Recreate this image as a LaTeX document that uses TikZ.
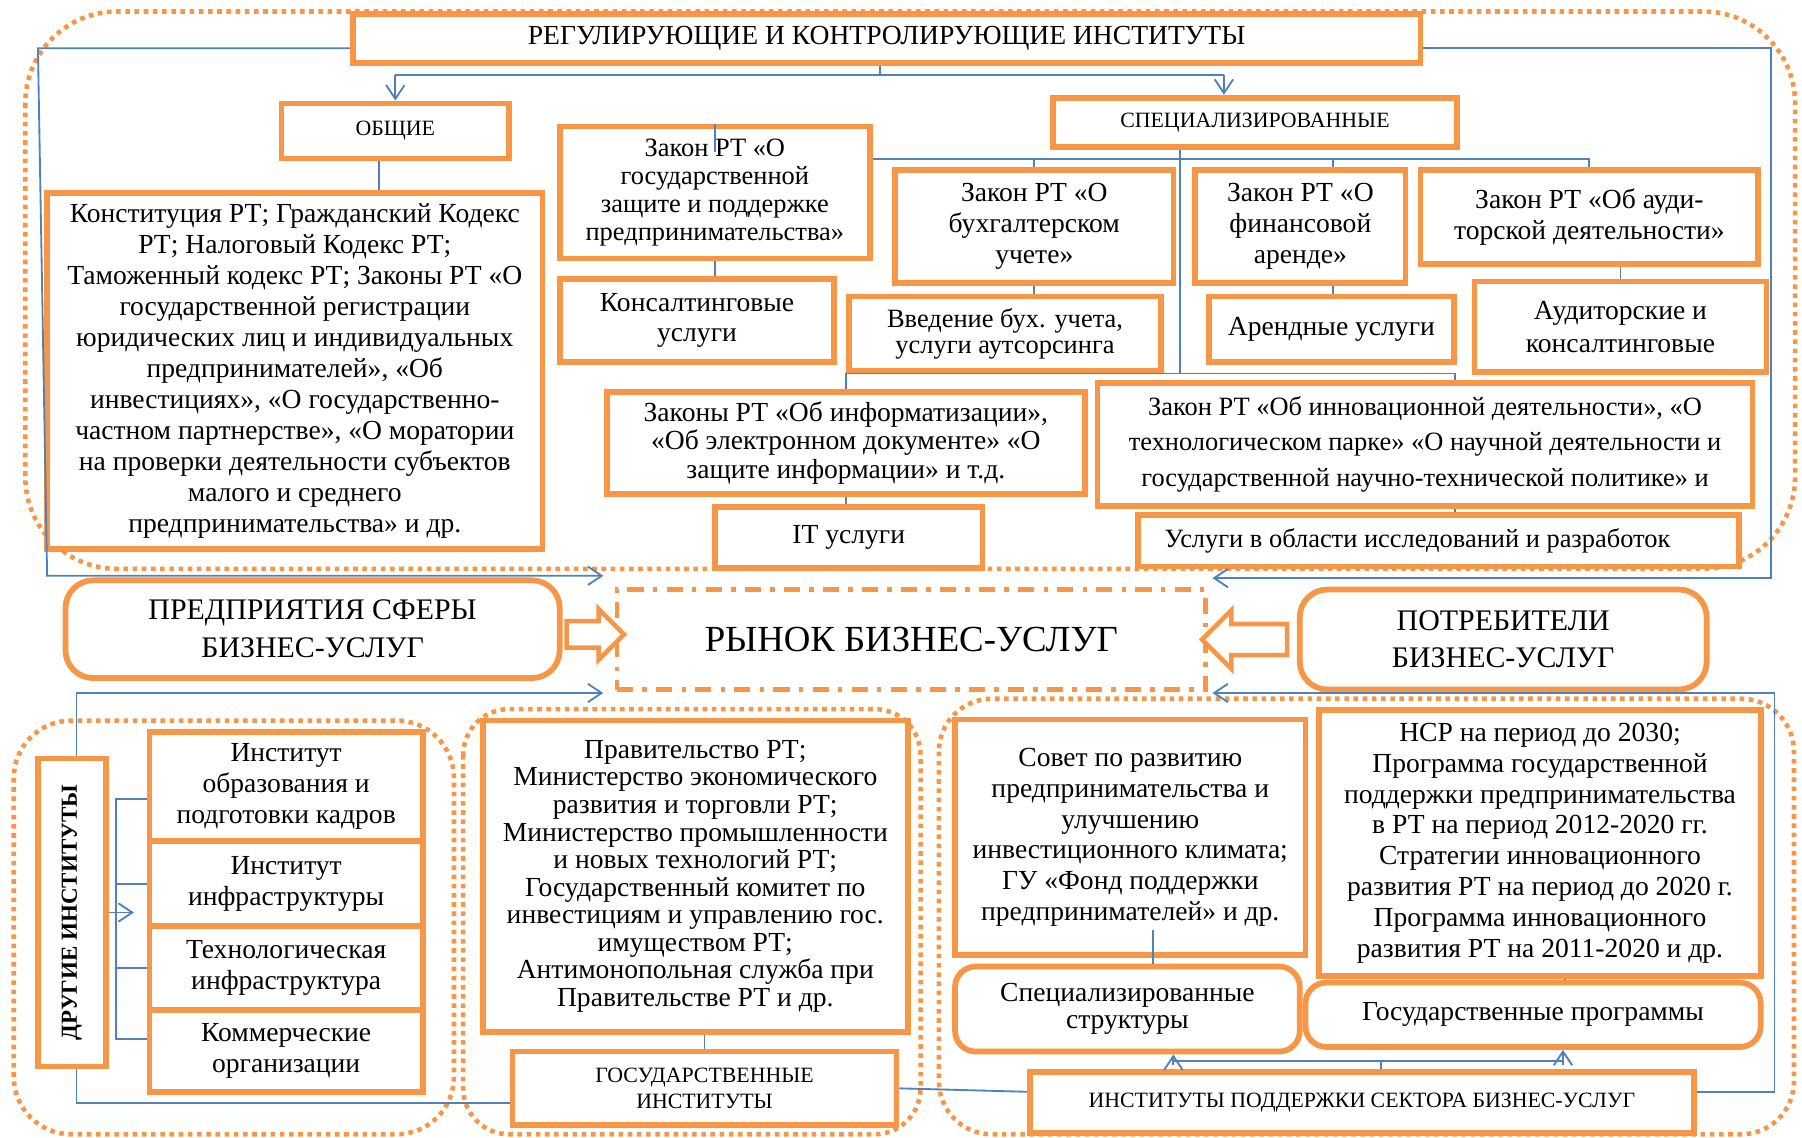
\documentclass[tikz,border=0pt]{standalone}
\usepackage{fontspec}
\setmainfont{Liberation Serif}
\usetikzlibrary{arrows.meta, shapes.arrows, calc}
\definecolor{borange}{HTML}{F79646}
\definecolor{bblue}{HTML}{4F81BD}

\begin{document}
\begin{tikzpicture}[x=0.5pt, y=-0.5pt,
    obox/.style={draw=borange, line width=2.5pt, fill=white, align=center, inner sep=0pt, font=\fontsize{12}{13.5}\selectfont},
    rbox/.style={obox, rounded corners=9pt},
    capbox/.style={obox, font=\fontsize{9.5}{11}\selectfont},
    sz/.style 2 args={minimum width=#1, minimum height=#2},
    grp/.style={draw=borange, line width=2pt, dash pattern=on 2pt off 2pt, rounded corners=#1},
    grp/.default=25pt,
    mkt/.style={draw=borange, line width=2pt, dash pattern=on 7pt off 4pt on 2pt off 4pt, fill=white, inner sep=0pt, font=\fontsize{16}{19}\selectfont},
    hollow/.style={single arrow, draw=borange, line width=2pt, fill=white, inner xsep=0pt, minimum width=0pt},
    conn/.style={draw=bblue, line width=0.8pt},
    arr/.style={conn, -{Straight Barb[length=6pt, width=8pt]}}]
    \useasboundingbox (0,0) rectangle (1568,990);

    % Dotted groups
    \draw[grp=40pt] (22,10) rectangle (1562,495);
    \draw[grp=25pt] (12,627) rectangle (395,987);
    \draw[grp=20pt] (403,617) rectangle (801,987);
    \draw[grp=23pt] (817,608) rectangle (1561,987);

    % Regulating institutions
    \node[obox, sz={464.5pt}{21.5pt}, font=\fontsize{12}{14}\selectfont] (title) at (771.5,33.5) {РЕГУЛИРУЮЩИЕ И КОНТРОЛИРУЮЩИЕ ИНСТИТУТЫ};
    \node[capbox, sz={99pt}{24pt}] (obsh) at (344,114) {ОБЩИЕ};
    \node[capbox, sz={176pt}{21.5pt}] (spec) at (1092,106.5) {СПЕЦИАЛИЗИРОВАННЫЕ};
    \node[obox, sz={215.5pt}{155pt}] (konst) at (256.5,323) {Конституция РТ; Гражданский Кодекс\\
        РТ; Налоговый Кодекс  РТ;\\
        Таможенный кодекс РТ; Законы РТ «О\\
        государственной регистрации\\
        юридических лиц и индивидуальных\\
        предпринимателей», «Об\\
        инвестициях», «О государственно-\\
        частном партнерстве», «О моратории\\
        на проверки деятельности  субъектов\\
        малого и среднего\\
        предпринимательства» и др.};
    \node[obox, sz={135pt}{57.5pt}, font=\fontsize{11.5}{12.2}\selectfont] (zgos) at (622,167.5) {Закон РТ «О\\государственной\\защите и поддержке\\предпринимательства»};
    \node[obox, sz={119.5pt}{36pt}, font=\fontsize{12}{13}\selectfont] (kons) at (606.5,279) {Консалтинговые\\услуги};
    \node[obox, sz={121pt}{49pt}] (buh) at (900,197) {Закон РТ «О\\бухгалтерском\\учете»};
    \node[obox, sz={135.5pt}{32.5pt}, font=\fontsize{11.5}{11.5}\selectfont] (vved) at (874.5,290.5) {Введение бух. учета,\\услуги аутсорсинга};
    \node[obox, sz={91.5pt}{49pt}] (fin) at (1131.5,197) {Закон РТ «О\\финансовой\\аренде»};
    \node[obox, sz={106.5pt}{28.5pt}] (arend) at (1158.5,286.5) {Арендные услуги};
    \node[obox, sz={147pt}{41pt}] (audit) at (1383,189) {Закон РТ «Об ауди-\\торской деятельности»};
    \node[obox, sz={127pt}{39.5pt}, font=\fontsize{12}{14}\selectfont] (audk) at (1410,284.5) {Аудиторские и\\консалтинговые};
    \node[obox, sz={285pt}{53.5pt}, font=\fontsize{11.5}{15.5}\selectfont] (innov) at (1240,386.5) {Закон РТ «Об инновационной деятельности», «О\\технологическом парке» «О научной деятельности и\\государственной научно-технической политике» и};
    \node[obox, sz={261.5pt}{22.5pt}, font=\fontsize{11.5}{13}\selectfont] (rnd) at (1251.5,470.5) {Услуги в области исследований и разработок\hspace*{18pt}};
    \node[obox, sz={208pt}{44.5pt}, font=\fontsize{12}{12.2}\selectfont] (inform) at (736,385.5) {Законы РТ «Об информатизации»,\\«Об электронном документе» «О\\защите информации»  и т.д.};
    \node[obox, sz={116.5pt}{26.5pt}] (it) at (738.5,467.5) {IT услуги};

    % Market row
    \node[rbox, rounded corners=12pt, sz={215pt}{42.5pt}, font=\fontsize{13}{16.5}\selectfont] (pred) at (272,547.5) {ПРЕДПРИЯТИЯ СФЕРЫ\\БИЗНЕС-УСЛУГ};
    \node[mkt, sz={256pt}{43.5pt}] (market) at (793,556.5) {РЫНОК БИЗНЕС-УСЛУГ};
    \node[rbox, rounded corners=12pt, sz={177pt}{43.5pt}, font=\fontsize{13}{16}\selectfont] (potr) at (1308,556.5) {ПОТРЕБИТЕЛИ\\БИЗНЕС-УСЛУГ};
    \node[hollow, minimum height=25pt, inner ysep=4.75pt, single arrow head extend=5.25pt] (parr) at ($(pred.east)!0.5!(market.west)$) {};
    \node[hollow, shape border rotate=180, minimum height=37pt, inner ysep=5.75pt, single arrow head extend=6pt] (carr) at ($(market.east)!0.5!(potr.west)$) {};

    % Other institutions
    \node[obox, sz={29.5pt}{134pt}] (drug) at (62.5,794) {};
    \node[rotate=90, font=\bfseries\fontsize{10}{12}\selectfont] (druglbl) at (drug) {ДРУГИЕ ИНСТИТУТЫ};
    \node[obox, sz={119pt}{47.5pt}] (s1) at (249,684.5) {Институт\\образования и\\подготовки кадров};
    \node[obox, sz={119pt}{37pt}] (s2) at (249,769) {Институт\\инфраструктуры};
    \node[obox, sz={119pt}{36.5pt}] (s3) at (249,842.5) {Технологическая\\инфраструктура};
    \node[obox, sz={119pt}{35.5pt}] (s4) at (249,914.5) {Коммерческие\\организации};

    % State institutions
    \node[obox, sz={185pt}{135.5pt}, font=\fontsize{12}{12}\selectfont] (prav) at (605,762.5) {Правительство РТ;\\
        Министерство экономического\\
        развития и торговли РТ;\\
        Министерство промышленности\\
        и новых технологий РТ;\\
        Государственный комитет по\\
        инвестициям и управлению гос.\\
        имуществом РТ;\\
        Антимонопольная служба при\\
        Правительстве РТ и др.};
    \node[capbox, sz={167pt}{32pt}] (gosi) at (613,947) {ГОСУДАРСТВЕННЫЕ\\ИНСТИТУТЫ};

    % Support institutions
    \node[obox, sz={152.5pt}{102.5pt}, font=\fontsize{12}{13.4}\selectfont] (sovet) at (983.5,728.5) {Совет по развитию\\предпринимательства и\\улучшению\\инвестиционного климата;\\ГУ «Фонд поддержки\\предпринимателей» и др.};
    \node[rbox, sz={150pt}{37pt}, font=\fontsize{12}{12}\selectfont] (spst) at (981,878) {Специализированные\\структуры};
    \node[obox, sz={192pt}{115.5pt}, font=\fontsize{12}{13.4}\selectfont] (nsr) at (1340,733.5) {НСР на период до 2030;\\
        Программа государственной\\
        поддержки предпринимательства\\
        в РТ на период 2012-2020 гг.\\
        Стратегии инновационного\\
        развития РТ  на период до 2020 г.\\
        Программа инновационного\\
        развития РТ на 2011-2020 и др.};
    \node[rbox, sz={198pt}{28pt}] (gprog) at (1334,883) {Государственные программы};
    \node[capbox, sz={289pt}{26.5pt}] (inst) at (1185,959.5) {ИНСТИТУТЫ ПОДДЕРЖКИ СЕКТОРА БИЗНЕС-УСЛУГ};

    % Connectors, top part
    \coordinate (ty) at (0,65);
    \coordinate (hy) at (0,138);
    \coordinate (ly) at (0,325);
    \coordinate (tj) at ([xshift=-3pt]title.south);
    \coordinate (sp) at ([xshift=-13.5pt]spec.north);
    \draw[conn] (tj) -- (tj |- ty);
    \draw[conn] (obsh.north |- ty) -- (sp |- ty);
    \draw[arr] (obsh.north |- ty) -- (obsh.north);
    \draw[arr] (sp |- ty) -- (sp);
    \coordinate (oj) at ([xshift=-7pt]obsh.south);
    \draw[conn] (oj) -- (oj |- konst.north);
    \draw[conn] (zgos.north) -- ++(0,25);
    \draw[conn] (zgos.south) -- (zgos.south |- kons.north);
    \coordinate (sj) at ([xshift=-32.5pt]spec.south);
    \draw[conn] (sj) -- (sj |- ly);
    \draw[conn] (zgos.east |- hy) -| (audit.north);
    \draw[conn] (buh.north |- hy) -- (buh.north);
    \coordinate (fj) at ([xshift=14.25pt]fin.north);
    \draw[conn] (fj |- hy) -- (fj);
    \draw[conn] (buh.south) -- (buh.south |- vved.north);
    \draw[conn] (fin.south -| fj) -- (arend.north -| fj);
    \draw[conn] (audk.north |- audit.south) -- (audk.north);
    \coordinate (ij) at ([xshift=13pt]innov.north);
    \draw[conn] (inform.north) |- (ij |- ly) -- (ij);
    \draw[conn] (ij |- innov.south) -- (ij |- rnd.north);
    \draw[conn] (inform.south) -- (inform.south |- it.north);

    % Connectors to the market
    \draw[arr] ([yshift=-4.25pt]title.west) -- (33,42) -- (41,501) -- ($(market.north west)+(-10,-10)$);
    \draw[arr] ([yshift=-4.25pt]title.east) -- (1541,42) -- (1541,503) -- ($(market.north east)+(4,-8)$);
    \draw[arr] ([xshift=2pt]drug.north) |- ($(market.south west)+(-10,1)$);
    \draw[arr] ([yshift=4.75pt]inst.east) -- (1544,950) -- (1544,603) -- ($(market.south east)+(4,1)$);

    % Connectors, bottom part
    \coordinate (brx) at (101,0);
    \coordinate (b1) at ([yshift=-5.25pt]s1.west);
    \coordinate (b4) at ([yshift=5.25pt]s4.west);
    \draw[conn] (b1) -- (b1 -| brx) -- (b4 -| brx) -- (b4);
    \draw[conn] (s2.west -| brx) -- (s2.west);
    \draw[conn] (s3.west -| brx) -- (s3.west);
    \draw[arr] (drug.east) -- ++(22,0);
    \draw[conn] ([xshift=2pt]drug.south) |- ([yshift=-6.5pt]gosi.west);
    \draw[conn] (gosi.east) -- ([yshift=4.75pt]inst.west);
    \draw[conn] (gosi.north |- prav.south) -- (gosi.north);
    \coordinate (vj) at ([xshift=10pt]sovet.south);
    \draw[conn] ([yshift=12pt]vj) -- (vj |- spst.north);
    \coordinate (nj) at ([xshift=11pt]nsr.south);
    \draw[conn] (nj) -- (nj |- gprog.north);
    \coordinate (pj) at ([xshift=8.5pt]inst.north);
    \coordinate (pl) at ([xshift=20pt]spst.south);
    \coordinate (pr) at ([xshift=13pt]gprog.south);
    \draw[conn] (pj) -- ++(0,-7) coordinate (pm);
    \draw[conn] (pm -| pl) -- (pm -| pr);
    \draw[arr] (pl |- pm) ++(0,3) -- (pl);
    \draw[arr] (pr |- pm) ++(0,3) -- (pr);
\end{tikzpicture}
\end{document}
